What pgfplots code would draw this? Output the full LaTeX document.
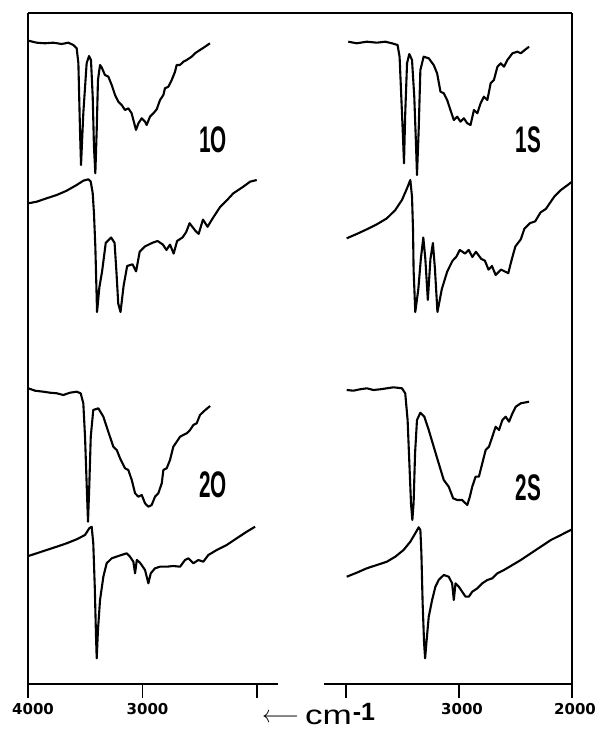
\documentclass[border=0pt]{standalone}
\usepackage{fontspec}
\setmainfont{Liberation Sans}
\newfontfamily\dvs{DejaVu Sans}
\usepackage{graphicx}
\usepackage{pgfplots}
\pgfplotsset{compat=1.18}
\newcommand{\lab}[1]{\scalebox{0.56}[1]{\fontsize{37bp}{37bp}\selectfont\bfseries #1}}
\begin{document}
\begin{tikzpicture}
\path[use as bounding box] (0bp,0bp) rectangle (604bp,729bp);
\pgfplotsset{
 spec/.style={scale only axis, height=671bp, ymin=45, ymax=716, x dir=reverse,
   axis x line*=bottom, ytick=\empty, xtick={4000,3000,2000},
   tick align=outside, major tick length=14bp,
   axis line style={-,line width=1.8bp},
   every tick/.style={line width=1.8bp, black},
   xticklabel style={font=\dvs\bfseries\fontsize{15bp}{15bp}\selectfont, text depth=0pt, yshift=-2bp},
   clip=true},
 trace/.style={black, line width=2.1bp, no markers, line join=round}
}
\begin{axis}[spec, name=L, at={(28bp,45bp)}, anchor=south west, width=250bp,
  xmin=1817, xmax=4000, axis y line*=left,
  xticklabels={4000,3000,{}}, xticklabel style={xshift=5bp}]
% 1O upper
\addplot[trace] coordinates {(3997,688.3)(3924,686.3)(3852,685.7)(3779,686.3)(3706,685)(3648,686.3)(3604,684)(3575,680.7)(3560,665.7)(3546,599)(3537,564)(3517,615.7)(3488,665.7)(3467,673)(3450,669)(3435,632.3)(3424,582.3)(3412,555.7)(3400,599)(3389,649)(3371,664)(3357,661.7)(3328,654)(3298,652.3)(3269,644)(3240,634)(3211,627.3)(3182,624)(3153,619)(3124,620.7)(3095,615.7)(3057,599)(3036,605.7)(3007,610.7)(2978,607.3)(2964,604)(2935,612.3)(2905,615.7)(2876,619.7)(2847,629)(2818,634)(2804,640.7)(2774,642.3)(2745,649)(2716,657.3)(2702,664)(2673,664)(2643,667.3)(2614,669)(2571,672.3)(2542,675.7)(2498,679)(2454,682.3)(2411,685.7)};
% 1O lower
\addplot[trace] coordinates {(3997,525.7)(3924,527.3)(3837,530.7)(3749,534)(3662,538.3)(3575,544)(3517,548.3)(3473,549.7)(3452,547.3)(3435,535.7)(3424,515.7)(3412,482.3)(3397,417)(3377,441.5)(3353,457.6)(3321,486.1)(3274,491.5)(3244,486.1)(3228,457.6)(3212,425.4)(3192,417)(3165,443.3)(3134,463)(3087,464.7)(3056,457.6)(3025,477.2)(2978,482.6)(2916,486.1)(2869,488)(2822,484.4)(2791,479)(2760,484.4)(2728,475.4)(2698,488)(2651,491.5)(2619,496.9)(2589,505.8)(2541,498.6)(2510,495.1)(2472,509.4)(2432,502.2)(2385,511.1)(2323,521.9)(2261,529)(2207,535.7)(2120,542.3)(2061,547.3)(2003,549)};
% 2O upper
\addplot[trace] coordinates {(3997,340.7)(3939,338.3)(3866,337.3)(3808,336.3)(3749,335.7)(3692,334)(3633,336.3)(3575,337.3)(3540,335.7)(3517,325.7)(3502,292.3)(3487,242.3)(3476,207.3)(3465,242.3)(3452,292.3)(3430,319)(3386,320.7)(3342,312.3)(3299,297.3)(3255,282.3)(3225,279)(3196,270.7)(3153,260.7)(3124,259)(3094,249)(3065,235.7)(3036,232.3)(3007,234)(2978,225.7)(2949,222.3)(2920,224)(2891,232.3)(2862,235.7)(2832,245.7)(2818,259)(2789,260.7)(2760,269)(2731,282.3)(2701,287.3)(2672,292.3)(2644,294)(2614,295.7)(2585,299)(2556,304)(2527,305.7)(2498,314)(2469,317.3)(2410,323)};
% 2O lower
\addplot[trace] coordinates {(3997,173)(3924,175.7)(3837,179)(3749,182.3)(3662,185.7)(3575,189.7)(3502,194)(3465,200.7)(3444,202.3)(3430,185.7)(3417,142.3)(3406,92.3)(3400,70.7)(3389,99)(3371,129)(3342,152.3)(3313,165.7)(3269,170.7)(3211,173)(3138,175.7)(3109,172.3)(3080,167.3)(3065,155.7)(3050,169)(3022,166.3)(2978,159)(2949,145.7)(2928,155.7)(2891,160.7)(2847,162.3)(2789,162.3)(2731,163)(2672,162.3)(2629,169)(2600,170.7)(2556,165.7)(2513,169)(2469,167.3)(2425,174)(2352,179)(2265,184)(2177,190.7)(2090,197.3)(2017,202.3)};
\node at (axis cs:2384,589) {\lab{1O}};
\node at (axis cs:2382,244) {\lab{2O}};
\end{axis}
\begin{axis}[spec, name=R, at={(324bp,45bp)}, anchor=south west, width=248bp,
  xmin=2000, xmax=4195, axis y line*=right,
  xticklabels={{},3000,2000}, xticklabel style={xshift=3bp}]
% 1S upper
\addplot[trace] coordinates {(3980,687.3)(3905,685.7)(3816,687.3)(3727,686.3)(3653,687.3)(3594,685.7)(3544,684)(3526,672.3)(3511,632.3)(3496,592.3)(3487,565.7)(3476,615.7)(3460,665.7)(3440,675)(3416,669)(3396,632.3)(3380,582.3)(3372,554)(3357,599)(3342,659)(3313,672.3)(3268,670.7)(3224,664)(3194,655.7)(3164,637.3)(3135,635.7)(3105,629)(3076,619)(3046,609)(3016,612.3)(2987,607.3)(2957,610.7)(2927,605.7)(2898,604)(2868,619)(2838,615.7)(2809,625.7)(2780,632.3)(2749,629)(2720,645.7)(2691,649)(2660,662.3)(2631,665.7)(2602,662.3)(2572,669)(2527,675.7)(2483,677.3)(2453,675.7)(2418,679)(2380,682.3)};
% 1S lower
\addplot[trace] coordinates {(3994,490.7)(3905,495)(3816,499.7)(3727,504.7)(3638,510.7)(3564,519)(3505,529)(3460,540.7)(3431,549)(3416,532.3)(3407,499)(3402,459)(3387,417)(3360,440)(3338,470)(3316,491.5)(3298,470)(3276,429)(3253,470)(3231,486)(3213,460)(3191,417)(3152,440)(3104,457.6)(3057,468.3)(3025,472)(2993,479)(2946,475.4)(2914,479)(2882,472)(2850,477.2)(2803,470.1)(2771,468.3)(2739,459.4)(2708,463)(2676,454)(2628,459.4)(2596,457.6)(2564,455.8)(2532,470.1)(2501,482.6)(2453,489.7)(2421,500.4)(2373,505.8)(2326,507.6)(2279,516.5)(2231,520.1)(2199,525.4)(2157,532.3)(2098,539)(2038,544)(2000,547.3)};
% 2S upper
\addplot[trace] coordinates {(3994,339)(3935,338.3)(3876,339.7)(3816,340.7)(3757,339)(3698,339.7)(3638,340.7)(3580,341.7)(3505,340.7)(3476,335.7)(3455,309)(3437,259)(3425,225.7)(3413,209)(3402,225.7)(3389,275.7)(3372,309)(3342,316.3)(3307,312.3)(3268,299)(3224,282.3)(3180,265.7)(3135,249)(3091,242.3)(3052,230.7)(3016,229)(2972,229)(2927,224)(2904,232.3)(2883,242.3)(2853,252.3)(2824,252.3)(2794,265.7)(2764,279)(2735,282.3)(2705,292.3)(2676,302.3)(2646,299)(2616,309)(2587,312.3)(2557,307.3)(2527,315.7)(2498,322.3)(2453,325.7)(2380,327.3)};
% 2S lower
\addplot[trace] coordinates {(3994,152.3)(3905,156.3)(3816,160.7)(3727,164)(3638,167.3)(3564,172.3)(3491,179)(3431,187.3)(3387,195.7)(3357,201.7)(3342,199)(3333,175.7)(3322,125.7)(3309,85.7)(3300,70.7)(3289,85.7)(3268,112.3)(3238,129)(3209,142.3)(3180,149)(3135,154)(3091,152.3)(3061,145.7)(3046,129)(3031,145.7)(3002,142.3)(2972,137.3)(2942,132.3)(2913,132.3)(2883,137.3)(2838,140.7)(2794,145.7)(2749,149)(2705,150.7)(2660,155.7)(2602,159)(2527,164)(2453,169)(2364,175.7)(2276,182.3)(2187,189)(2098,194)(2000,199.7)};
\node at (axis cs:2387,589) {\lab{1S}};
\node at (axis cs:2387,241.5) {\lab{2S}};
\end{axis}
\draw[line width=1.8bp] (28bp,716bp) -- (572bp,716bp);
\node[anchor=base west, inner sep=0pt] at (262bp,5bp) {\raisebox{2bp}{\scalebox{2.3}[2.4]{$\longleftarrow$}}\hspace{6bp}\scalebox{1.3}[1]{\fontsize{27bp}{27bp}\selectfont cm}\hspace{1bp}\raisebox{4bp}{\fontsize{25bp}{25bp}\selectfont\bfseries -1}};
\end{tikzpicture}
\end{document}
